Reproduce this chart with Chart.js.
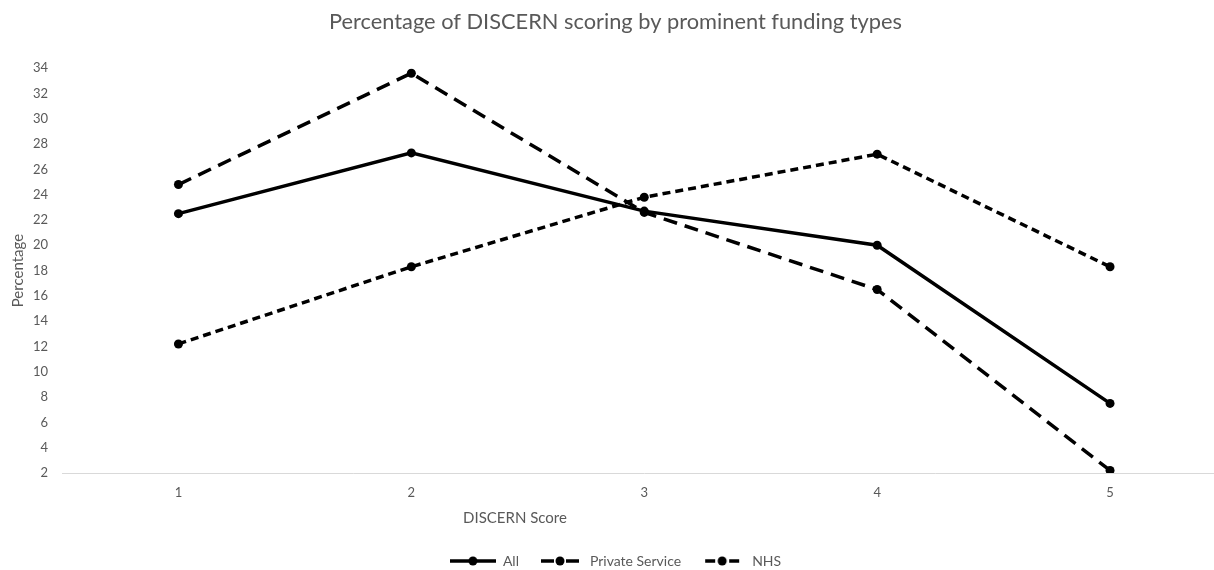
<!DOCTYPE html>
<html>
<head>
<meta charset="utf-8">
<title>DISCERN scoring by funding type</title>
<script src="https://cdn.jsdelivr.net/npm/chart.js@4.4.1/dist/chart.umd.min.js"></script>
<style>
  html, body { margin: 0; padding: 0; background: #ffffff; overflow: hidden; }
  #wrap { width: 1231px; height: 578px; }
</style>
</head>
<body>
<div id="wrap"><canvas id="chart" width="1231" height="578"></canvas></div>
<script>
// DISCERN score categories
const scores = ['1', '2', '3', '4', '5'];

// Percentage of resources at each score, per funding type
const allValues     = [22.5, 27.3, 22.7, 20.0, 7.5];
const privateValues = [24.8, 33.6, 22.6, 16.5, 2.2];
const nhsValues     = [12.2, 18.3, 23.8, 27.2, 18.3];

const seriesNames = ['All', 'Private Service', 'NHS'];
const yTicks = { min: 2, max: 34, step: 2 };

const FONT = "Lato, 'Open Sans', 'Liberation Sans', sans-serif";
const GREY = '#595959';
const INK = '#000000';
const LINE_W = 3.5;

const dashes = [[], [14, 8], [8, 5]];

// Small line-with-marker swatches for the legend
function swatch(kind) {
  const c = document.createElement('canvas');
  c.width = 46; c.height = 12;
  const g = c.getContext('2d');
  g.strokeStyle = INK; g.fillStyle = INK; g.lineWidth = LINE_W;
  const segs = kind === 0 ? [[0, 46]] : kind === 1 ? [[4, 17], [29, 42]] : [[6, 16], [30, 40]];
  segs.forEach(([a, b]) => { g.beginPath(); g.moveTo(a, 6); g.lineTo(b, 6); g.stroke(); });
  g.beginPath(); g.arc(23, 6, 4.5, 0, Math.PI * 2); g.fill();
  return c;
}
const swatches = [swatch(0), swatch(1), swatch(2)];

// Axis caption under the category labels
const xCaption = {
  id: 'xCaption',
  afterDraw(chart) {
    const { ctx, chartArea } = chart;
    ctx.save();
    ctx.font = '15px ' + FONT;
    ctx.fillStyle = GREY;
    ctx.textAlign = 'center';
    ctx.textBaseline = 'middle';
    ctx.fillText('DISCERN Score', chartArea.left + chartArea.width * 0.389, chartArea.bottom + 45);
    ctx.restore();
  }
};

function lineSet(label, data, dash) {
  return {
    label, data,
    borderColor: INK, backgroundColor: INK,
    borderWidth: LINE_W, borderDash: dash,
    pointRadius: 4.5, pointHoverRadius: 4.5,
    pointBackgroundColor: INK, pointBorderWidth: 0,
    tension: 0, fill: false
  };
}

new Chart(document.getElementById('chart'), {
  type: 'line',
  data: {
    labels: scores,
    datasets: [
      lineSet(seriesNames[0], allValues, dashes[0]),
      lineSet(seriesNames[1], privateValues, dashes[1]),
      lineSet(seriesNames[2], nhsValues, dashes[2])
    ]
  },
  options: {
    responsive: false,
    animation: false,
    devicePixelRatio: 1,
    layout: { padding: 0 },
    plugins: {
      tooltip: { enabled: false },
      title: {
        display: true,
        text: 'Percentage of DISCERN scoring by prominent funding types',
        color: GREY,
        font: { family: FONT, size: 21.8, weight: 'normal', lineHeight: 1.2 },
        padding: { top: 9, bottom: 33 }
      },
      legend: {
        position: 'bottom',
        labels: {
          usePointStyle: true,
          pointStyleWidth: 46,
          padding: 18,
          color: GREY,
          font: { family: FONT, size: 14 },
          generateLabels(chart) {
            return Chart.defaults.plugins.legend.labels.generateLabels(chart).map((item, i) => {
              item.pointStyle = swatches[i];
              return item;
            });
          }
        }
      }
    },
    scales: {
      x: {
        offset: true,
        grid: { display: false, drawTicks: false },
        border: { display: true, color: '#d9d9d9', width: 1 },
        ticks: { color: GREY, padding: 12, font: { family: FONT, size: 13 } },
        afterFit(scale) { scale.height = 63; }
      },
      y: {
        min: yTicks.min,
        max: yTicks.max,
        grid: { display: false, drawTicks: false },
        border: { display: false },
        ticks: { stepSize: yTicks.step, color: GREY, padding: 14, font: { family: FONT, size: 13 } },
        title: {
          display: true,
          text: 'Percentage',
          color: GREY,
          font: { family: FONT, size: 15 },
          padding: { top: 9, bottom: 6 }
        },
        afterFit(scale) { scale.width = 62; }
      }
    }
  },
  plugins: [xCaption]
});
</script>
</body>
</html>
